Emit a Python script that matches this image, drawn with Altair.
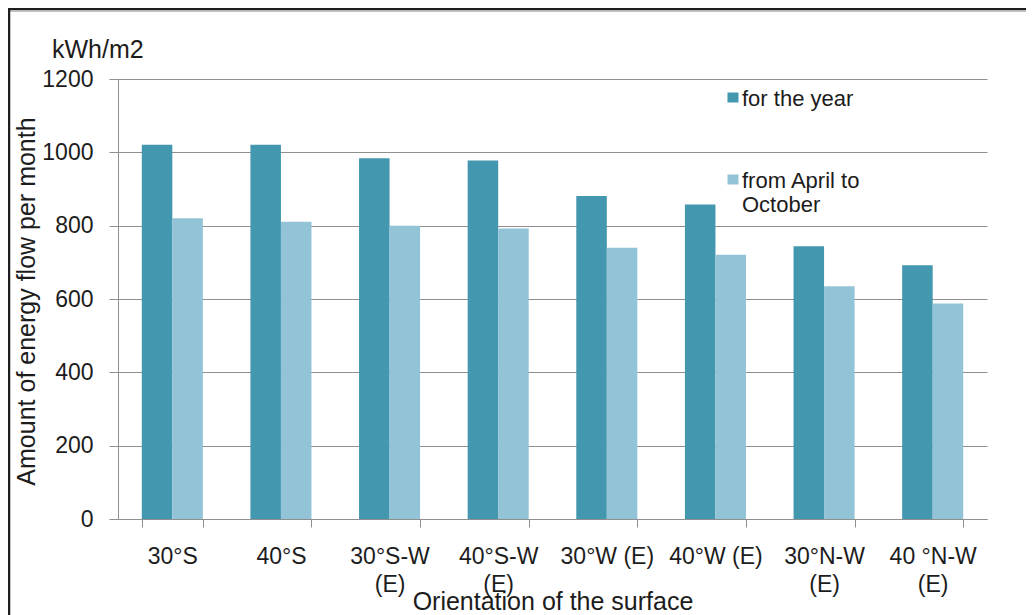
import altair as alt
import pandas as pd

# ---- data ----
categories = ["30°S", "40°S", "30°S-W\n(E)", "40°S-W\n(E)", "30°W (E)", "40°W (E)", "30°N-W\n(E)", "40 °N-W\n(E)"]
series = ["for the year", "from April to October"]
year_values = [1021, 1021, 984, 978, 881, 858, 744, 692]
april_oct_values = [820, 811, 800, 792, 740, 721, 635, 588]
y_ticks = [0, 200, 400, 600, 800, 1000, 1200]
colors = ["#4397AE", "#93C3D6"]

rows = []
for c, a, b in zip(categories, year_values, april_oct_values):
    rows.append({"orientation": c, "series": series[0], "value": a})
    rows.append({"orientation": c, "series": series[1], "value": b})
df = pd.DataFrame(rows)

FONT = "Liberation Sans, Arial, sans-serif"
TEXT = "#1c1c1c"
GRID = "#8f8f8f"

bars = alt.Chart(df).mark_bar().encode(
    x=alt.X(
        "orientation:N",
        sort=categories,
        scale=alt.Scale(paddingInner=0.438, paddingOuter=0.219),
        axis=alt.Axis(
            title="Orientation of the surface",
            labelAngle=0,
            labelExpr="split(datum.label, '\\n')",
            labelFont=FONT,
            labelFontSize=23,
            labelColor=TEXT,
            labelBaseline="top",
            labelLineHeight=28,
            labelPadding=18,
            labelOverlap=False,
            tickBand="extent",
            tickSize=8,
            tickColor=GRID,
            domainColor=GRID,
            grid=False,
            titleFont=FONT,
            titleFontSize=25,
            titleFontWeight="normal",
            titleColor=TEXT,
            titleBaseline="alphabetic",
            titleY=90,
        ),
    ),
    xOffset=alt.XOffset("series:N", sort=series, scale=alt.Scale(paddingInner=0, paddingOuter=0)),
    y=alt.Y(
        "value:Q",
        scale=alt.Scale(domain=[0, 1200], nice=False),
        axis=alt.Axis(
            title="Amount of energy flow per month",
            values=y_ticks,
            format="d",
            labelFont=FONT,
            labelFontSize=23,
            labelColor=TEXT,
            labelPadding=16,
            tickSize=9,
            tickColor=GRID,
            domainColor=GRID,
            gridColor=GRID,
            titleFont=FONT,
            titleFontSize=25,
            titleFontWeight="normal",
            titleColor=TEXT,
            titleBaseline="alphabetic",
            titleX=-84,
            titleY=222,
        ),
    ),
    color=alt.Color(
        "series:N",
        sort=series,
        scale=alt.Scale(domain=series, range=colors),
        legend=alt.Legend(
            title=None,
            orient="none",
            legendX=602,
            legendY=16,
            padding=0,
            labelExpr="datum.label == 'from April to October' ? ['from April to', 'October'] : datum.label",
            labelFont=FONT,
            labelFontSize=22,
            labelColor=TEXT,
            labelBaseline="alphabetic",
            labelOffset=0,
            symbolType="M-0.64,-2.45H1.36V-0.64H-0.64Z",
            symbolSize=121,
            symbolStrokeWidth=0,
            symbolOpacity=1,
            rowPadding=60,
        ),
    ),
)

frame_data = pd.DataFrame({"edge": ["frame"]})
top_rule = alt.Chart(frame_data).mark_rule(color="#1e1e1e", strokeWidth=2.5).encode(
    x=alt.value(-110), x2=alt.value(920), y=alt.value(-70)
)
top_shadow = alt.Chart(frame_data).mark_rule(color="#b0b0b0", strokeWidth=1.5).encode(
    x=alt.value(-108), x2=alt.value(920), y=alt.value(-68)
)
left_rule = alt.Chart(frame_data).mark_rule(color="#1e1e1e", strokeWidth=2.5).encode(
    x=alt.value(-109), y=alt.value(-71), y2=alt.value(540)
)

chart = alt.layer(bars, top_rule, top_shadow, left_rule).properties(
    width=869,
    height=440,
    autosize=alt.AutoSizeParams(type="none"),
    padding={"left": 110, "top": 71, "right": 39, "bottom": 100},
    title=alt.TitleParams(
        "kWh/m2",
        anchor="start",
        frame="group",
        dx=-66,
        offset=-76,
        baseline="alphabetic",
        fontSize=25,
        font=FONT,
        fontWeight="normal",
        color=TEXT,
    ),
).configure_view(stroke=None)

chart.save("out.html", embed_options={"renderer": "svg", "actions": False})
